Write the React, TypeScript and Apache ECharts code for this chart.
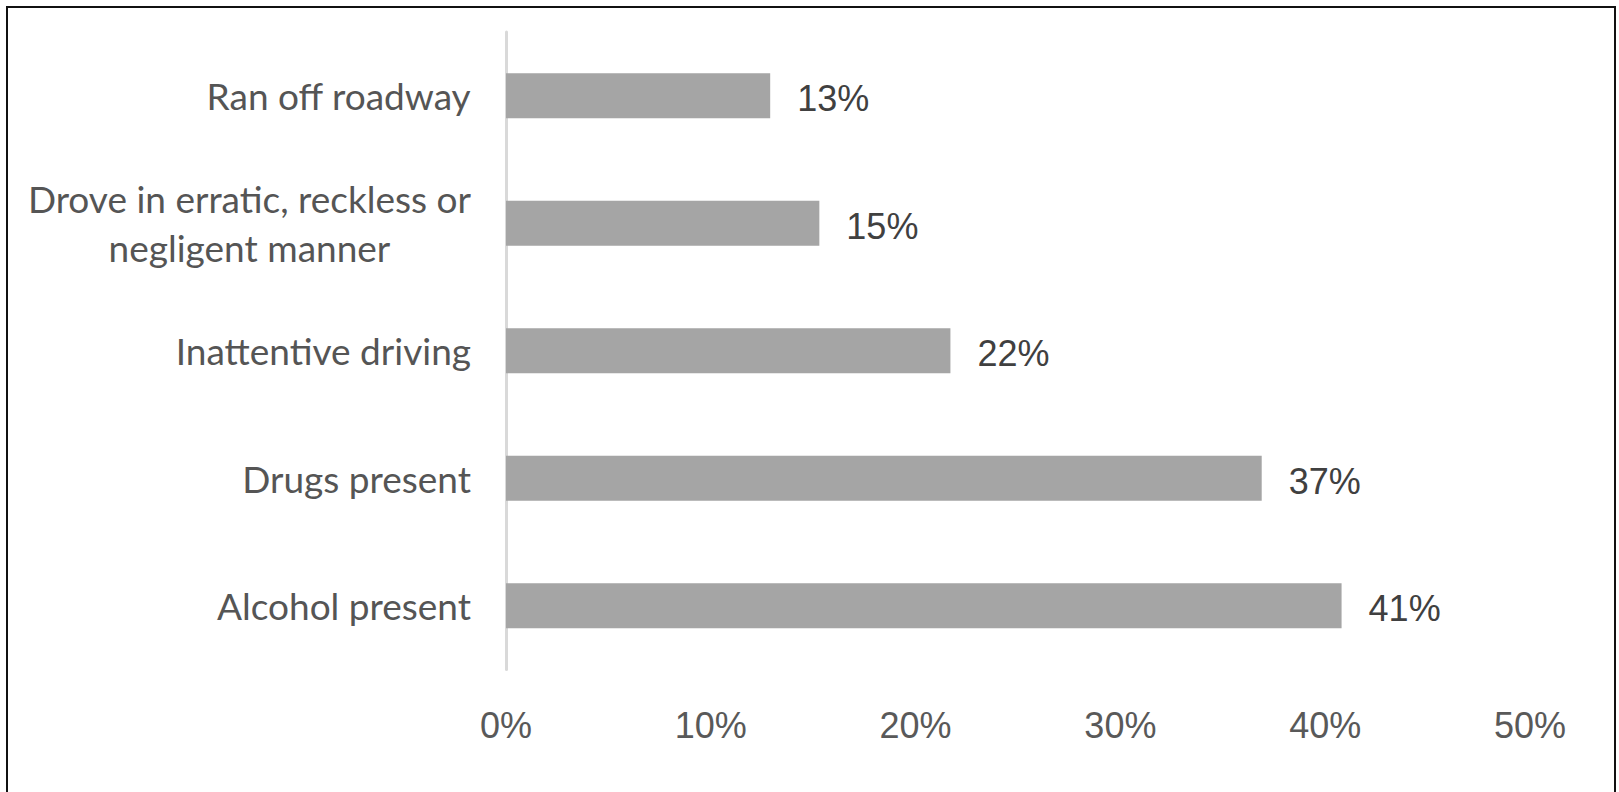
import React, { useEffect, useRef } from "react";
import * as echarts from "echarts";

const categories = [
  "Ran off roadway",
  "Drove in erratic, reckless or\nnegligent manner",
  "Inattentive driving",
  "Drugs present",
  "Alcohol present",
];
const values = [12.9, 15.3, 21.7, 36.9, 40.8];
const xTicks = [0, 10, 20, 30, 40, 50];

export default function App() {
  const ref = useRef<HTMLDivElement>(null);
  useEffect(() => {
    if (!ref.current) return;
    const chart = echarts.init(ref.current, null, { renderer: "svg" });
    chart.setOption({
      animation: false,
      backgroundColor: "#ffffff",
      graphic: [
        {
          type: "rect",
          shape: { x: 7, y: 7, width: 1608, height: 820 },
          style: { fill: "none", stroke: "#111111", lineWidth: 2 },
          silent: true,
        },
      ],
      grid: { left: 506, right: 89, top: 32, bottom: 122.5, containLabel: false },
      xAxis: {
        type: "value",
        min: xTicks[0],
        max: xTicks[xTicks.length - 1],
        interval: 10,
        axisLine: { show: false },
        axisTick: { show: false },
        splitLine: { show: false },
        axisLabel: {
          formatter: "{value}%",
          fontFamily: "Liberation Sans, Arial, sans-serif",
          fontSize: 36,
          lineHeight: 36,
          color: "#595959",
          margin: 38,
        },
      },
      yAxis: {
        type: "category",
        data: categories,
        inverse: true,
        axisTick: { show: false },
        axisLine: { show: true, lineStyle: { color: "#d9d9d9", width: 3 } },
        axisLabel: {
          margin: 35,
          align: "right",
          formatter: (v: string) =>
            v
              .split("\n")
              .map((l) => `{c|${l}}`)
              .join("\n"),
          rich: {
            c: {
              align: "center",
              fontFamily: "Lato, sans-serif",
              fontSize: 37,
              lineHeight: 49,
              color: "#555555",
            },
          },
        },
      },
      series: [
        {
          type: "bar",
          data: values,
          barWidth: 45,
          itemStyle: { color: "#a5a5a5" },
          label: {
            show: true,
            position: "right",
            distance: 27,
            offset: [0, 3],
            formatter: (p: any) => `${Math.round(p.value)}%`,
            fontFamily: "Liberation Sans, Arial, sans-serif",
            fontSize: 36,
            color: "#404040",
          },
        },
      ],
    });
    return () => chart.dispose();
  }, []);
  return (
    <div
      ref={ref}
      style={{ position: "fixed", left: 0, top: 0, width: 1619, height: 792, background: "#fff" }}
    />
  );
}
